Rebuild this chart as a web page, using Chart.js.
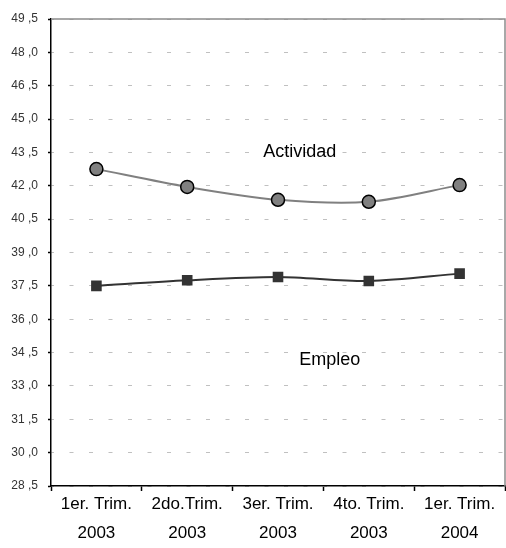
<!DOCTYPE html>
<html>
<head>
<meta charset="utf-8">
<script src="https://cdn.jsdelivr.net/npm/chart.js@4/dist/chart.umd.min.js"></script>
<style>
  html, body { margin: 0; padding: 0; background: #fff; overflow: hidden; }
  canvas { display: block; }
</style>
</head>
<body>
<canvas id="chart" width="506" height="548"></canvas>
<script>
// Quarter labels (two lines each)
const quarters = [
    ['1er. Trim.', '2003'],
    ['2do.Trim.', '2003'],
    ['3er. Trim.', '2003'],
    ['4to. Trim.', '2003'],
    ['1er. Trim.', '2004']
];

// Rates
const actividad = [42.75, 41.95, 41.37, 41.28, 42.03];
const empleo = [37.5, 37.75, 37.9, 37.72, 38.05];

// Y axis range and step
const yMin = 28.5;
const yMax = 49.5;
const yStep = 1.5;

// Series names written inside the plot
const seriesLabels = [
    { text: 'Actividad', x: 2.24, y: 43.52 },
    { text: 'Empleo', x: 2.57, y: 34.17 }
];

const FONT = '"Liberation Sans", Arial, sans-serif';

// Draws the gray frame on top/right and the series names
const framePlugin = {
    id: 'frame',
    afterDatasetsDraw(chart) {
        const { ctx, chartArea, scales } = chart;
        ctx.save();
        ctx.strokeStyle = '#8c8c8c';
        ctx.lineWidth = 1.5;
        ctx.beginPath();
        ctx.moveTo(chartArea.left, chartArea.top);
        ctx.lineTo(chartArea.right, chartArea.top);
        ctx.lineTo(chartArea.right, chartArea.bottom);
        ctx.stroke();

        ctx.fillStyle = '#000';
        ctx.font = '18px ' + FONT;
        ctx.textAlign = 'center';
        ctx.textBaseline = 'middle';
        seriesLabels.forEach(l => {
            ctx.fillText(l.text, scales.x.getPixelForValue(l.x), scales.y.getPixelForValue(l.y));
        });
        ctx.restore();
    }
};

new Chart(document.getElementById('chart'), {
    type: 'line',
    data: {
        labels: quarters,
        datasets: [
            {
                label: 'Actividad',
                data: actividad,
                borderColor: '#808080',
                borderWidth: 2,
                backgroundColor: '#808080',
                pointStyle: 'circle',
                pointRadius: 6.5,
                pointBorderColor: '#000',
                pointBorderWidth: 1.5,
                tension: 0.3
            },
            {
                label: 'Empleo',
                data: empleo,
                borderColor: '#333333',
                borderWidth: 2,
                backgroundColor: '#333333',
                pointStyle: 'rect',
                pointRadius: 7.5,
                pointBorderColor: '#333333',
                pointBorderWidth: 0,
                tension: 0.3
            }
        ]
    },
    options: {
        responsive: false,
        animation: false,
        layout: { autoPadding: false, padding: { top: 19, right: 1, left: 0, bottom: 0 } },
        plugins: {
            legend: { display: false },
            tooltip: { enabled: false }
        },
        scales: {
            x: {
                offset: true,
                grid: {
                    offset: true,
                    drawOnChartArea: false,
                    drawTicks: true,
                    tickLength: 5,
                    tickColor: '#000',
                    tickWidth: 1.5
                },
                border: { color: '#000', width: 1.5 },
                ticks: {
                    color: '#000',
                    font: { family: FONT, size: 17, lineHeight: 1.7 },
                    padding: -1,
                    maxRotation: 0,
                    autoSkip: false
                },
                afterFit(scale) {
                    scale.height = 62;
                    scale.paddingLeft = 0;
                    scale.paddingRight = 0;
                }
            },
            y: {
                min: yMin,
                max: yMax,
                grid: {
                    color: '#c0c0c0',
                    lineWidth: 1,
                    tickLength: 3,
                    tickColor: '#000',
                    tickWidth: 1.5
                },
                border: { color: '#000', width: 1.5, dash: [4, 15.5], dashOffset: 1.5 },
                ticks: {
                    stepSize: yStep,
                    color: '#333',
                    font: { family: FONT, size: 12 },
                    padding: 10,
                    callback: v => v.toFixed(1).replace('.', ' ,')
                },
                afterFit(scale) { scale.width = 51; }
            }
        }
    },
    plugins: [framePlugin]
});
</script>
</body>
</html>
